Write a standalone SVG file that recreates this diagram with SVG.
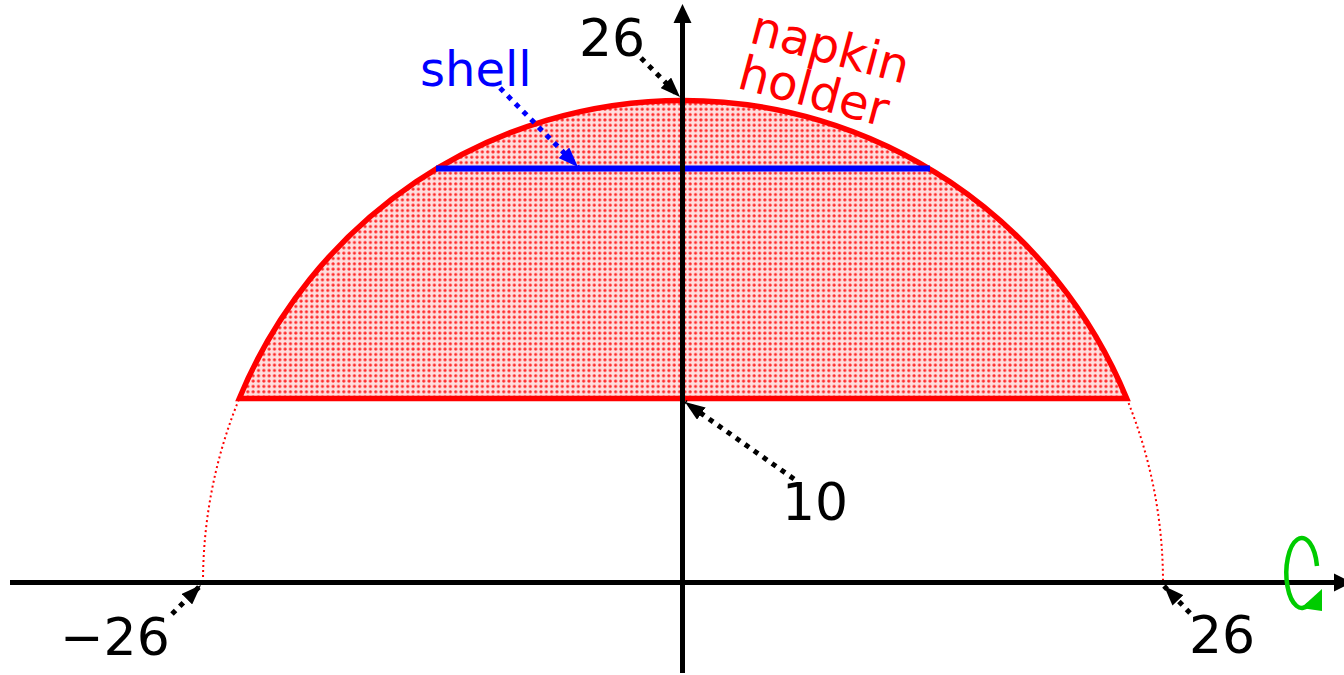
<svg xmlns="http://www.w3.org/2000/svg" width="1344" height="675" viewBox="0 0 1344 675">
  <style>
    .lbl { font-family: "DejaVu Sans", Verdana, sans-serif; font-size: 52px; fill: #000; }
    .axis { stroke: #000; stroke-width: 5; fill: none; }
    .dotk { stroke: #000; stroke-width: 5; stroke-dasharray: 5 6; fill: none; marker-end: url(#ak); }
    .dotb { stroke: #0000ff; stroke-width: 5; stroke-dasharray: 5 6; fill: none; marker-end: url(#ab); }
    .nh { font-family: "DejaVu Sans", Verdana, sans-serif; font-size: 48px; fill: #ff0000; }
  </style>
  <defs>
    <pattern id="dots" patternUnits="userSpaceOnUse" width="5.33" height="5.33">
      <rect width="5.33" height="5.33" fill="#ffdede"/>
      <circle cx="2.66" cy="2.66" r="1.6" fill="#ff2a2a"/>
    </pattern>
    <marker id="ak" markerUnits="userSpaceOnUse" viewBox="0 0 20 15" refX="20" refY="7.5" markerWidth="20" markerHeight="15" orient="auto">
      <path d="M0 0 L20 7.5 L0 15 Z" fill="#000"/>
    </marker>
    <marker id="ab" markerUnits="userSpaceOnUse" viewBox="0 0 20 15" refX="20" refY="7.5" markerWidth="20" markerHeight="15" orient="auto">
      <path d="M0 0 L20 7.5 L0 15 Z" fill="#0000ff"/>
    </marker>
  </defs>
  <rect width="1344" height="675" fill="#fff"/>

  <g id="napkin-holder">
    <path d="M 239.3 398.5 A 480 482 0 0 1 1126.7 398.5 Z" fill="url(#dots)" stroke="none"/>
    <path d="M 239.3 398.5 A 480 482 0 0 1 1126.7 398.5 Z" fill="none" stroke="#ff0000" stroke-width="5.5" stroke-linejoin="miter"/>
  </g>

  <g id="sphere-outline">
    <path d="M 203 582 A 480 482 0 0 1 239.3 398.5" fill="none" stroke="#ff0000" stroke-width="2" stroke-dasharray="2 3"/>
    <path d="M 1126.7 398.5 A 480 482 0 0 1 1163 582" fill="none" stroke="#ff0000" stroke-width="2" stroke-dasharray="2 3"/>
  </g>

  <g id="shell">
    <line x1="436" y1="168.5" x2="930" y2="168.5" stroke="#0000ff" stroke-width="6"/>
  </g>

  <g id="axes">
    <line class="axis" x1="10" y1="582.5" x2="1334" y2="582.5"/>
    <path d="M1334 573.5 L1352 582.5 L1334 591.5 Z" fill="#000"/>
    <line class="axis" x1="682.5" y1="673" x2="682.5" y2="22"/>
    <path d="M673.5 23 L682.5 4 L691.5 23 Z" fill="#000"/>
  </g>

  <g id="rotation">
    <path d="M 1317 566 A 15.5 35 0 1 0 1309 604" fill="none" stroke="#00cc00" stroke-width="4.5"/>
    <path d="M 1301 608 L 1322 589 L 1322 611 Z" fill="#00cc00"/>
  </g>

  <g id="connectors">
    <line class="dotk" x1="641" y1="58" x2="680" y2="97"/>
    <line class="dotb" x1="500" y1="88" x2="578" y2="167"/>
    <line class="dotk" x1="794" y1="479" x2="685" y2="402"/>
    <line class="dotk" x1="172" y1="614" x2="201" y2="585"/>
    <line class="dotk" x1="1190" y1="613" x2="1164" y2="586"/>
  </g>

  <g id="labels">
    <text class="lbl" x="579" y="56">26</text>
    <text x="420" y="86" style="font-family: 'DejaVu Sans', Verdana, sans-serif; font-size: 48px; fill: #0000ff;">shell</text>
    <g transform="translate(748 42) rotate(15)">
      <text class="nh" x="0" y="0">napkin</text>
      <text class="nh" x="0" y="47">holder</text>
    </g>
    <text class="lbl" x="782" y="520">10</text>
    <text class="lbl" x="60" y="655">−26</text>
    <text class="lbl" x="1189" y="653">26</text>
  </g>
</svg>
